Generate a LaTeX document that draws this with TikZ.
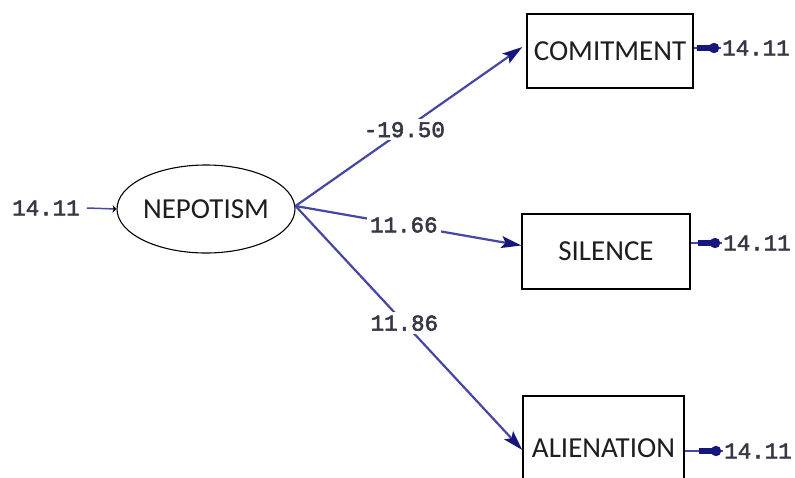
\documentclass[tikz,border=0pt]{standalone}
\usepackage{fontspec}
\setmainfont{Carlito}
\newfontfamily\numfont{Liberation Mono}[FakeBold=2.5]
\usetikzlibrary{arrows.meta,shapes.geometric}
\definecolor{pathblue}{RGB}{70,70,165}
\definecolor{tipblue}{RGB}{22,22,125}
\definecolor{numgray}{RGB}{55,55,70}
\definecolor{txtgray}{RGB}{30,30,30}
\tikzset{
  varbox/.style={draw=black, line width=1.4pt, rectangle, inner sep=0pt,
    font=\fontsize{29}{30}\selectfont, text=txtgray},
  latent/.style={draw=black, line width=1.1pt, ellipse, inner sep=0pt,
    minimum width=168pt, minimum height=88pt,
    font=\fontsize{29}{30}\selectfont, text=txtgray},
  numlab/.style={font=\numfont\fontsize{22.5}{24}\selectfont, text=numgray, inner sep=1pt},
  pathlab/.style={numlab, fill=white, inner sep=3pt},
  patharrow/.style={draw=pathblue, line width=2.2pt,
    -{Stealth[length=20pt, width=12pt, inset=4pt, color=tipblue]}},
  errthin/.style={draw=pathblue, line width=1.5pt},
  errthick/.style={draw=tipblue, line width=5.5pt, -{Circle[length=10pt, color=tipblue]}},
}
\begin{document}
\begin{tikzpicture}[x=1pt, y=-1pt]
\useasboundingbox (0,0) rectangle (795,477);
\clip (0,0) rectangle (795,477);
\fill[white] (0,0) rectangle (795,477);

\node[latent] (nep) at (206,209) {NEPOTISM};
\node[varbox, minimum width=166pt, minimum height=74pt] (com) at (610,51) {COMITMENT};
\node[varbox, minimum width=168pt, minimum height=75pt] (sil) at (606,251.5) {SILENCE};
\node[varbox, minimum width=161pt, minimum height=104pt] (ali) at (603.5,448) {ALIENATION};

\node[numlab] (e0) at (46,208) {14.11};
\node[numlab] (e1) at (756,48) {14.11};
\node[numlab] (e2) at (757,243) {14.11};
\node[numlab] (e3) at (758,451) {14.11};

% error paths
\draw[errthin, -{Stealth[length=4pt, width=8pt, color=black]}] ([xshift=6pt]e0.east) -- (nep.west);
\draw[errthin] (e1.west -| com.east) -- (e1.west);
\draw[errthick] ([xshift=-24pt]e1.west) -- ([xshift=-2pt]e1.west);
\draw[errthin] (e2.west -| sil.east) -- (e2.west);
\draw[errthick] ([xshift=-24pt]e2.west) -- ([xshift=-2pt]e2.west);
\draw[errthin] (e3.west -| ali.east) -- (e3.west);
\draw[errthick] ([xshift=-24pt]e3.west) -- ([xshift=-2pt]e3.west);

% structural paths
\draw[patharrow] ([yshift=3pt]nep.east) -- node[pathlab, pos=0.48] (l1) {-19.50} ([yshift=4pt, xshift=-4pt]com.west);
\draw[patharrow] ([yshift=3pt]nep.east) -- node[pathlab, pos=0.48] (l2) {11.66} ([yshift=6pt]sil.west);
\draw[patharrow] ([yshift=3pt]nep.east) -- node[pathlab, pos=0.48] (l3) {11.86} ([yshift=-2pt]ali.west);
\end{tikzpicture}
\end{document}
